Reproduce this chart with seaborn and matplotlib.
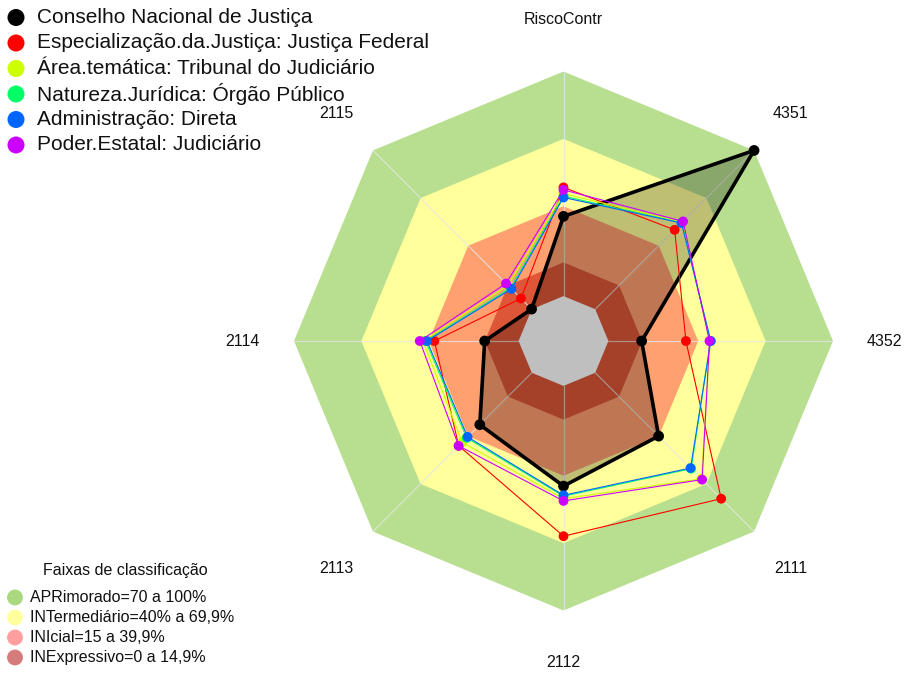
import numpy as np
import matplotlib
matplotlib.use("Agg")
import matplotlib.pyplot as plt
import seaborn as sns

# Radar axes (clockwise from the top)
categories = ["RiscoContr", "4351", "4352", "2111", "2112", "2113", "2114", "2115"]

# Series values (%)
series_names = [
    "Conselho Nacional de Justiça",
    "Especialização.da.Justiça: Justiça Federal",
    "Área.temática: Tribunal do Judiciário",
    "Natureza.Jurídica: Órgão Público",
    "Administração: Direta",
    "Poder.Estatal: Judiciário",
]
cnj = [35.5, 100.0, 14.8, 39.9, 44.6, 32.7, 15.1, 0.1]
justica_federal = [48.4, 50.0, 34.5, 79.3, 66.9, 46.0, 37.5, 6.8]
tribunal_judiciario = [45.6, 54.8, 45.2, 66.8, 50.2, 43.8, 42.6, 15.0]
orgao_publico = [44.5, 54.4, 45.4, 60.4, 49.1, 41.0, 41.4, 13.4]
direta = [43.9, 54.3, 45.6, 60.0, 48.7, 40.4, 40.8, 12.8]
judiciario = [47.3, 55.3, 45.0, 67.3, 51.2, 46.0, 44.0, 16.2]
series_values = [cnj, justica_federal, tribunal_judiciario, orgao_publico, direta, judiciario]
series_colors = ["#000000", "#FF0000", "#CCFF00", "#00FF66", "#0066FF", "#CC00FF"]

# Classification bands (upper limit of each band, %)
band_limits = [100, 70, 40, 15]
band_colors = ["#B8DF8F", "#FFFF9C", "#FFA070", "#DD5637"]
band_labels = [
    "APRimorado=70 a 100%",
    "INTermediário=40% a 69,9%",
    "INIcial=15 a 39,9%",
    "INExpressivo=0 a 14,9%",
]
band_legend_colors = ["#A9D87E", "#FFFF9E", "#FF9E9E", "#D67B7B"]
band_title = "Faixas de classificação"

sns.set_style("white")
plt.rcParams["font.family"] = ["Liberation Sans", "DejaVu Sans"]

W, H, DPI = 905, 675, 100
fig = plt.figure(figsize=(W / DPI, H / DPI), dpi=DPI)
fig.patch.set_facecolor("white")

cx, cy, R = 563.5, 341.0, 269.5
ax = fig.add_axes([(cx - R) / W, (H - cy - R) / H, 2 * R / W, 2 * R / H],
                  projection="polar")
ax.set_theta_offset(np.pi / 2)
ax.set_theta_direction(-1)
ax.set_facecolor("white")

n = len(categories)
theta = np.linspace(0, 2 * np.pi, n, endpoint=False)
theta_c = np.append(theta, theta[0] + 2 * np.pi)


def closed(vals):
    return np.append(vals, vals[0])


# Octagonal classification bands; the 0% ring leaves an empty centre
for lim, col in zip(band_limits, band_colors):
    ax.fill(theta_c, closed([lim] * n), color=col, lw=0, zorder=1)
ax.fill(theta_c, closed([0] * n), color="white", lw=0, zorder=1.5)

# Spokes
for t in theta:
    ax.plot([t, t], [0, 100], color="#E6E6E6", lw=0.9, alpha=0.75, zorder=2)

# Shaded area of the main series
ax.fill(theta_c, closed(cnj), color="black", alpha=0.25, lw=0, zorder=3)

# Series lines and points (not clipped at the outer ring)
for i, (vals, col) in enumerate(zip(series_values, series_colors)):
    main = i == 0
    sns.lineplot(x=theta_c, y=closed(vals), sort=False, estimator=None, ax=ax,
                 color=col, lw=2.6 if main else 0.8, zorder=4 + i,
                 solid_joinstyle="round", clip_on=False)
    sns.scatterplot(x=theta, y=vals, ax=ax, color=col, s=60 if main else 50,
                    edgecolor="none", linewidth=0, zorder=4.5 + i, clip_on=False)

# Radial scale starts below zero so that 0% sits on a small inner ring
ax.set_ylim(-20, 100)
ax.set_xticks([])
ax.set_yticks([])
ax.set_xlabel("")
ax.set_ylabel("")
ax.grid(False)
for sp in ax.spines.values():
    sp.set_visible(False)

# Axis labels
for t, lab in zip(theta, categories):
    ax.text(t, 123, lab, ha="center", va="center", fontsize=11.5,
            color="#111111", clip_on=False)

# Legends drawn in pixel coordinates on a transparent overlay
ov = fig.add_axes([0, 0, 1, 1], zorder=10)
ov.set_xlim(0, W)
ov.set_ylim(H, 0)
ov.axis("off")
ov.patch.set_alpha(0)

row_y = [17.5, 43, 68.5, 94, 119.5, 145]
for y, name, col in zip(row_y, series_names, series_colors):
    ov.scatter([16], [y], s=150, color=col, edgecolor="none")
    ov.text(37, y, name, fontsize=15, va="center", ha="left", color="#111111")

ov.text(125, 571, band_title, fontsize=11.5, ha="center", va="center", color="#111111")
band_y = [597.5, 617.5, 637.5, 657.5]
for y, lab, col in zip(band_y, band_labels, band_legend_colors):
    ov.scatter([15], [y], s=130, color=col, edgecolor="none")
    ov.text(29.5, y, lab, fontsize=11.5, va="center", ha="left", color="#111111")

fig.savefig("out.png", dpi=DPI, facecolor="white")
